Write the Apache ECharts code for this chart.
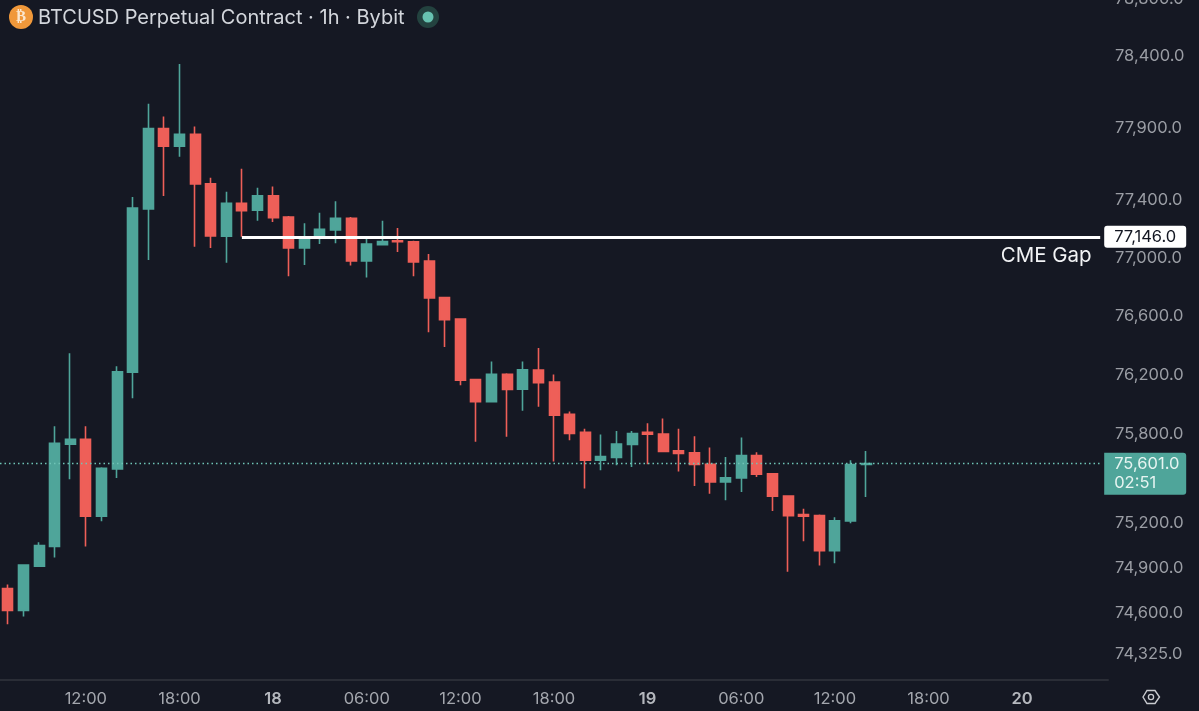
<!DOCTYPE html>
<html><head><meta charset="utf-8">
<style>html,body{margin:0;padding:0;background:#151823}#c{width:1199px;height:711px}</style>
<script src="https://cdn.jsdelivr.net/npm/echarts@6/dist/echarts.min.js"></script>
</head><body><div id="c"></div>
<script>
const categories = [
'17 07:00','17 08:00','17 09:00','17 10:00','17 11:00','17 12:00','17 13:00','17 14:00','17 15:00','17 16:00','17 17:00','17 18:00','17 19:00','17 20:00','17 21:00','17 22:00','17 23:00',
'18 00:00','18 01:00','18 02:00','18 03:00','18 04:00','18 05:00','18 06:00','18 07:00','18 08:00','18 09:00','18 10:00','18 11:00','18 12:00','18 13:00','18 14:00','18 15:00','18 16:00','18 17:00','18 18:00','18 19:00','18 20:00','18 21:00','18 22:00','18 23:00',
'19 00:00','19 01:00','19 02:00','19 03:00','19 04:00','19 05:00','19 06:00','19 07:00','19 08:00','19 09:00','19 10:00','19 11:00','19 12:00','19 13:00','19 14:00','19 15:00','19 16:00','19 17:00','19 18:00','19 19:00','19 20:00','19 21:00','19 22:00','19 23:00',
'20 00:00','20 01:00','20 02:00','20 03:00','20 04:00','20 05:00'];
const opens  = [74764,74617,74913,75045,75732,75766,75248,75565,76220,77338,77895,77773,77854,77511,77150,77377,77329,77428,77283,77069,77136,77193,77274,76981,77092,77119,77112,76979,76729,76582,76171,76019,76205,76105,76234,76153,75934,75812,75624,75642,75730,75812,75800,75687,75674,75597,75478,75505,75656,75532,75383,75259,75252,75016,75216,75595];
const closes = [74617,74920,75051,75739,75766,75248,75570,76222,77345,77895,77773,77854,77510,77152,77377,77326,77428,77278,77069,77136,77198,77274,76981,77096,77114,77112,76974,76726,76578,76166,76019,76205,76103,76236,76148,75929,75805,75624,75649,75734,75805,75800,75683,75670,75595,75478,75505,75656,75530,75381,75250,75248,75016,75216,75595,75601];
const lows   = [74525,74578,74913,74971,75496,75045,75214,75505,76044,76986,77428,77699,77078,77069,76967,77147,77257,77248,76876,76952,77096,77101,76949,76866,77092,77041,76876,76492,76392,76132,75748,76019,75782,75958,75985,75615,75759,75433,75557,75590,75579,75597,75683,75548,75451,75399,75354,75410,75511,75282,74876,75080,74918,74933,75200,75376];
const highs  = [74791,74920,75073,75854,76349,75854,75577,76261,77421,78067,77979,78344,77909,77553,77456,77616,77484,77493,77290,77239,77312,77391,77283,77138,77257,77207,77119,77028,76729,76582,76171,76293,76213,76293,76385,76205,75954,75836,75798,75822,75822,75873,75906,75836,75786,75710,75645,75778,75678,75538,75383,75297,75259,75241,75624,75687];
const priceTicks = [74325,74600,74900,75200,75800,76200,76600,77000,77400,77900,78400,78800];
const gapPrice = 77146, lastPrice = 75601, countdown = '02:51', gapStart = 15;
const hourTicks = ['00:00','06:00','12:00','18:00'];
const UP = '#4fa59a', DOWN = '#ee5f58', BG = '#151823', FONT = 'Inter';
const fmt = v => Math.round(v).toLocaleString('en-US') + '.0';

const chart = echarts.init(document.getElementById('c'), null, {renderer:'canvas'});
chart.setOption({
  animation:false,
  backgroundColor:BG,
  textStyle:{fontFamily:FONT},
  title:{text:'BTCUSD Perpetual Contract · 1h · Bybit',left:33,top:3,
    textStyle:{color:'#d3d6dc',fontSize:20,fontWeight:400,fontFamily:FONT}},
  grid:{left:0,right:91,top:-1,bottom:31,outerBoundsMode:'none',containLabel:false},
  xAxis:{type:'category',data:categories,boundaryGap:true,
    axisLine:{show:true,lineStyle:{color:'#2a2d36',width:2}},
    axisTick:{show:false},splitLine:{show:false},
    axisLabel:{margin:11,color:'#a3a6ad',fontSize:16.5,fontFamily:FONT,
      interval:(i,v)=>hourTicks.includes(v.split(' ')[1]),
      formatter:v=>{const [d,h]=v.split(' ');return h==='00:00'?'{d|'+d+'}':h;},
      rich:{d:{fontSize:16.5,fontWeight:600,color:'#b4b7bd',fontFamily:FONT}}}},
  yAxis:{type:'log',logBase:10,position:'right',min:74156,max:78800,scale:true,
    axisLine:{show:false},axisTick:{show:false},splitLine:{show:false},minorTick:{show:false},
    axisLabel:{margin:7,color:'#9a9da4',fontSize:16.5,fontFamily:FONT,customValues:priceTicks,padding:[2,0,0,0],
      formatter:v=>fmt(v),showMinLabel:true,showMaxLabel:true,hideOverlap:false}},
  series:[{type:'candlestick',barWidth:10.5,
    data:opens.map((o,i)=>[o,closes[i],lows[i],highs[i]]),
    itemStyle:{color:UP,color0:DOWN,borderColor:UP,borderColor0:DOWN,borderWidth:1.6},
    markLine:{silent:true,symbol:'none',animation:false,precision:0,
      data:[
       [{xAxis:0,yAxis:lastPrice,x:0,lineStyle:{color:'#6fc4b6',type:[1.5,3],width:1.3},
          label:{show:true,position:'end',distance:4,align:'left',verticalAlign:'top',offset:[0,-11],
            formatter:fmt(lastPrice)+'\n'+countdown,backgroundColor:UP,borderRadius:[0,3,3,0],
            color:'#e6f4f1',fontSize:16.5,lineHeight:19,padding:[2,3,2,10],width:69,fontFamily:FONT}},
        {xAxis:70,yAxis:lastPrice}],
       [{xAxis:gapStart,yAxis:gapPrice,lineStyle:{color:'#ffffff',type:'solid',width:3},
          label:{show:true,position:'end',distance:4,align:'left',verticalAlign:'middle',
            formatter:fmt(gapPrice),backgroundColor:'#ffffff',borderRadius:[3,3,3,3],
            color:'#131722',fontSize:16.5,lineHeight:18,padding:[2,3,2,10],width:69,fontFamily:FONT}},
        {xAxis:70,yAxis:gapPrice}]
      ]},
    markPoint:{silent:true,animation:false,symbol:'circle',symbolSize:1,itemStyle:{color:'rgba(0,0,0,0)'},
      data:[{coord:[categories[69],77012],
        label:{show:true,position:'inside',align:'right',verticalAlign:'middle',offset:[7,0],
          formatter:'CME Gap',color:'#f2f3f5',fontSize:20.5,letterSpacing:1.3,fontFamily:FONT}}]}
  }],
  graphic:[
    {type:'circle',shape:{cx:21,cy:17,r:12},style:{fill:'#f0983a'}},
    {type:'text',style:{x:21,y:17,text:'₿',fill:'#fbe7cf',font:'700 15px "DejaVu Sans"',textAlign:'center',textVerticalAlign:'middle'}},
    {type:'circle',shape:{cx:428,cy:17,r:11},style:{fill:'#23423f'}},
    {type:'circle',shape:{cx:428,cy:17,r:5.5},style:{fill:'#67c2b0'}},
    {type:'polygon',shape:{points:[[1143,697],[1147,690.5],[1155,690.5],[1159.5,697],[1155,703.5],[1147,703.5]]},
      style:{fill:'none',stroke:'#c9cbd0',lineWidth:1.4}},
    {type:'circle',shape:{cx:1151,cy:697,r:2.6},style:{fill:'none',stroke:'#c9cbd0',lineWidth:1.3}}
  ]
});
</script></body></html>
